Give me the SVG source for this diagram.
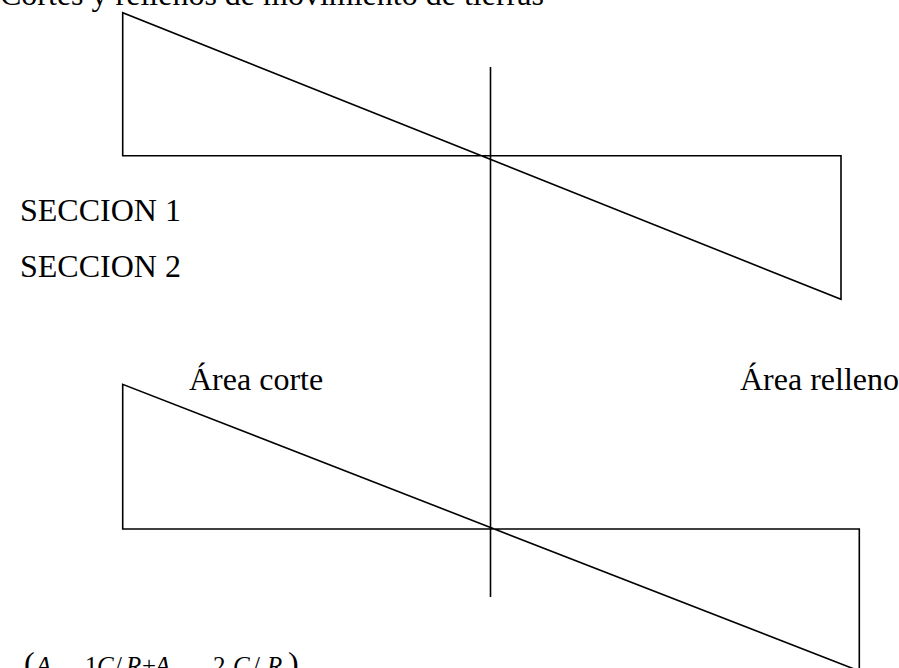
<svg xmlns="http://www.w3.org/2000/svg" width="899" height="668" viewBox="0 0 899 668">
<style>
.ln{fill:none;stroke:#000;stroke-width:1.6;stroke-linejoin:miter}
.t{font-family:"Liberation Serif","Times New Roman",serif;font-size:32px;fill:#000}
.m{font-family:"Liberation Serif","Times New Roman",serif;font-size:25px;fill:#000}
.i{font-style:italic}
</style>
<rect width="899" height="668" fill="#fff"/>
<g id="title"><text class="t" x="0" y="5">Cortes y rellenos de movimiento de tierras</text></g>
<g id="seccion1"><polygon class="ln" points="122.7,12.7 122.7,155.7 841,155.7 841,299.3"/></g>
<g id="seccion2"><polygon class="ln" points="122.7,384.3 122.7,529 859.3,529 859.3,671"/></g>
<g id="connectors"><line class="ln" x1="490.5" y1="67" x2="490.5" y2="597"/></g>
<g id="labels">
<text class="t" x="20" y="221">SECCION  1</text>
<text class="t" x="20" y="277">SECCION  2</text>
<text class="t" x="189" y="390">Área corte</text>
<text class="t" x="740" y="390">Área relleno</text>
</g>
<g id="formula"><text class="m" y="674"><tspan x="24" font-size="32">(</tspan><tspan x="36" class="i">A</tspan><tspan x="85">1</tspan><tspan x="97" class="i">C</tspan><tspan x="115">/</tspan><tspan x="126" class="i">R</tspan><tspan x="142">+</tspan><tspan x="155" class="i">A</tspan><tspan x="213">2</tspan><tspan x="233" class="i">C</tspan><tspan x="253">/</tspan><tspan x="267" class="i">R</tspan><tspan x="288" font-size="32">)</tspan></text></g>
</svg>
